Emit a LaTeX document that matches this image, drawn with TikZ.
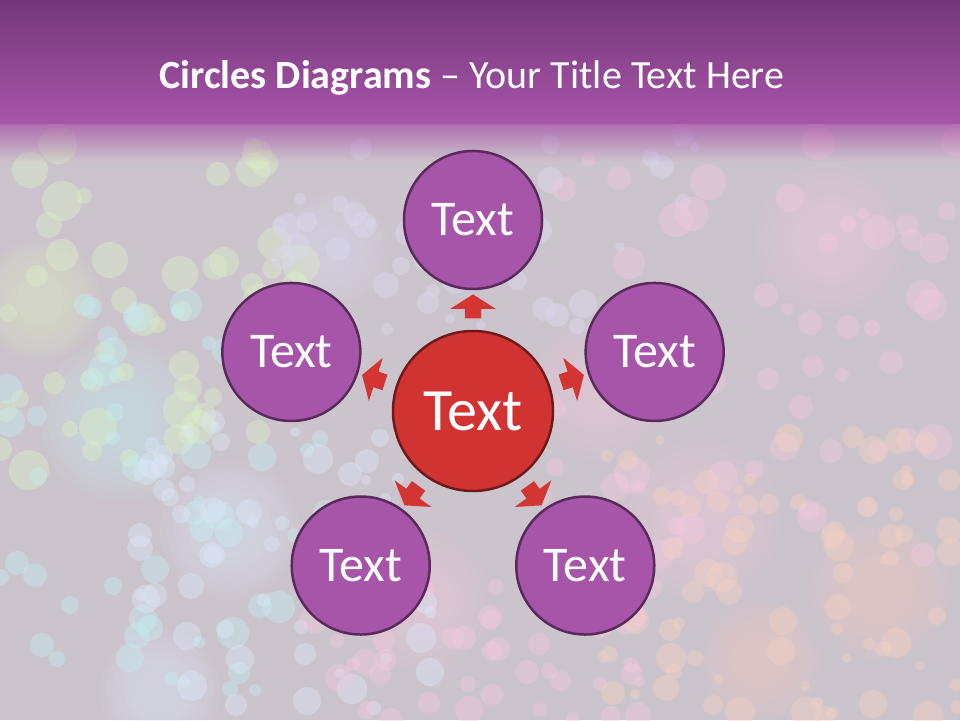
\documentclass[tikz,border=0pt]{standalone}
\usepackage{fontspec}
\setmainfont{Carlito}
\usetikzlibrary{shapes.arrows,calc}
\definecolor{bandtop}{HTML}{743878}
\definecolor{bandbot}{HTML}{A855A9}
\definecolor{bgbase}{HTML}{CCC4CC}
\definecolor{bkgreen}{HTML}{DDF0C6}
\definecolor{bkcyan}{HTML}{C4EEF2}
\definecolor{bkblue}{HTML}{DCE8FA}
\definecolor{bklav}{HTML}{DCD8F2}
\definecolor{bkpink}{HTML}{F4C8DE}
\definecolor{bkpeach}{HTML}{F6D0C0}
\definecolor{outerfill}{HTML}{A655A8}
\definecolor{outerline}{HTML}{5A2A5D}
\definecolor{redfill}{HTML}{D13333}
\definecolor{redline}{HTML}{6E1A1A}
\definecolor{arrowred}{HTML}{D33434}
\tikzset{
  outer/.style={circle, fill=outerfill, draw=outerline, line width=2.5pt,
    minimum size=138pt, inner sep=0pt, text=white, font=\fontsize{50}{50}\selectfont},
  hub/.style={circle, fill=redfill, draw=redline, line width=2.5pt,
    minimum size=160pt, inner sep=0pt, text=white, font=\fontsize{60}{60}\selectfont},
  blockarrow/.style={single arrow, fill=arrowred, draw=none, inner sep=8pt,
    single arrow head extend=14.5pt, single arrow tip angle=115,
    minimum height=24pt, anchor=center},
}
\newcommand{\bokeh}[8]{% n, xmin, xmax, ymin, ymax, rmin, rmax, color
  \foreach \i in {1,...,#1}{
    \pgfmathsetmacro\bx{random(#2,#3)}
    \pgfmathsetmacro\by{random(#4,#5)}
    \pgfmathsetmacro\br{random(#6,#7)}
    \fill[#8, opacity=0.4] (\bx,\by) circle (\br pt);
  }}
\begin{document}
\begin{tikzpicture}[x=1pt,y=1pt]
\useasboundingbox (0,0) rectangle (960,720);
% background
\fill[bgbase] (0,0) rectangle (960,596);
\pgfmathsetseed{11}
% large soft blobs
\foreach \x/\y/\r/\c in {830/480/75/bkpink, 600/330/70/bkpink, 700/200/80/bkpink,
   420/120/70/bkpink, 880/130/70/bkpeach, 330/470/60/bklav, 120/300/80/bkcyan,
   40/420/60/bkgreen, 230/190/70/bkblue, 160/30/60/bkblue, 760/60/60/bkpeach}{
  \foreach \s in {1.0,0.9,0.8,0.7,0.6,0.5,0.4}{
    \fill[\c, opacity=0.08] (\x,\y) circle (\s*\r pt);
  }
}
\bokeh{55}{0}{320}{250}{580}{8}{20}{bkgreen}
\bokeh{60}{0}{330}{20}{420}{6}{16}{bkcyan}
\bokeh{70}{140}{430}{10}{300}{5}{15}{bkblue}
\bokeh{45}{280}{720}{380}{585}{5}{14}{bklav}
\bokeh{55}{540}{960}{160}{585}{6}{18}{bkpink}
\bokeh{80}{600}{960}{0}{290}{5}{15}{bkpeach}
\bokeh{45}{300}{650}{0}{140}{5}{14}{bkpink}
% band
\shade[top color=bandtop, bottom color=bandbot] (0,596) rectangle (960,720);
\foreach \k in {1,...,20}{
  \pgfmathsetmacro\op{0.8-\k*0.04}
  \fill[bandbot, opacity=\op] (0,596-\k*2) rectangle (960,596-\k*2+2);
}
% title
\node[text=white, font=\fontsize{40}{40}\selectfont, anchor=base] (title) at (472,631)
  {\textbf{Circles Diagrams} – Your Title Text Here};
% diagram
\coordinate (c) at (473,309);
\node[hub] (hub) at (c) {Text};
\foreach \a/\n in {90/top,162/left,234/bl,306/br,18/right}{
  \node[outer] (\n) at ($(c)+(\a:191)$) {Text};
  \node[blockarrow, rotate=\a] (arr\n) at ($(c)+(\a:102)$) {};
}
\end{tikzpicture}
\end{document}
